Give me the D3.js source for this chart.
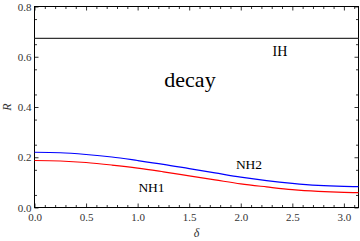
<!DOCTYPE html>
<html lang="en">
<head>
<meta charset="utf-8">
<title>decay R vs delta</title>
<script src="https://d3js.org/d3.v7.min.js"></script>
<style>
  body{margin:0;background:#fff;}
  svg{display:block;}
  text{font-family:"Liberation Serif","DejaVu Serif",serif;}
</style>
</head>
<body>
<div id="chart"></div>
<script>
// values
var delta = [0, 0.25, 0.5, 0.75, 1.0, 1.25, 1.5, 1.75, 2.0, 2.25, 2.5, 2.75, 3.0, Math.PI]
var nh2 = [0.220, 0.218, 0.211, 0.201, 0.187, 0.172, 0.155, 0.138, 0.121, 0.107, 0.096, 0.088, 0.084, 0.083]
var nh1 = [0.187, 0.185, 0.179, 0.169, 0.157, 0.142, 0.126, 0.110, 0.094, 0.082, 0.071, 0.064, 0.060, 0.059]
var ih = 0.673
var xTicks = [0, 0.5, 1.0, 1.5, 2.0, 2.5, 3.0]
var yTicks = [0, 0.2, 0.4, 0.6, 0.8]

var w = 360, h = 241
var x = d3.scaleLinear().domain([0, Math.PI]).range([34.5, 358.5])
var y = d3.scaleLinear().domain([0, 0.8]).range([207.5, 6.5])

var svg = d3.select("#chart").append("svg").attr("width", w).attr("height", h)

// minor ticks every 0.1 on x, every 0.05 on y
var xMinor = d3.range(0, 3.15, 0.1).filter(function(v){ return Math.abs(v*2 - Math.round(v*2)) > 1e-6 })
var yMinor = d3.range(0.05, 0.8, 0.1)

function tickStyle(g){
  g.select(".domain").remove()
  g.selectAll("line").attr("stroke", "#000").attr("stroke-width", 0.8)
  g.selectAll("text").attr("fill", "#333").attr("font-size", 11)
}

var fmt = d3.format(".1f")
svg.append("g").attr("transform", "translate(0," + y(0) + ")")
  .call(d3.axisBottom(x).tickValues(xTicks).tickSize(-4).tickPadding(6).tickFormat(fmt)).call(tickStyle)
svg.append("g").attr("transform", "translate(0," + y(0) + ")")
  .call(d3.axisBottom(x).tickValues(xMinor).tickSize(-2.5).tickFormat("")).call(tickStyle)
svg.append("g").attr("transform", "translate(0," + y(0.8) + ")")
  .call(d3.axisTop(x).tickValues(xTicks).tickSize(-4).tickFormat("")).call(tickStyle)
svg.append("g").attr("transform", "translate(0," + y(0.8) + ")")
  .call(d3.axisTop(x).tickValues(xMinor).tickSize(-2.5).tickFormat("")).call(tickStyle)

svg.append("g").attr("transform", "translate(" + x(0) + ",0)")
  .call(d3.axisLeft(y).tickValues(yTicks).tickSize(-4).tickPadding(3).tickFormat(fmt)).call(tickStyle)
svg.append("g").attr("transform", "translate(" + x(0) + ",0)")
  .call(d3.axisLeft(y).tickValues(yMinor).tickSize(-2.5).tickFormat("")).call(tickStyle)
svg.append("g").attr("transform", "translate(" + x(Math.PI) + ",0)")
  .call(d3.axisRight(y).tickValues(yTicks).tickSize(-4).tickFormat("")).call(tickStyle)
svg.append("g").attr("transform", "translate(" + x(Math.PI) + ",0)")
  .call(d3.axisRight(y).tickValues(yMinor).tickSize(-2.5).tickFormat("")).call(tickStyle)

// frame
svg.append("rect")
  .attr("x", x(0)).attr("y", y(0.8))
  .attr("width", x(Math.PI) - x(0)).attr("height", y(0) - y(0.8))
  .attr("fill", "none").attr("stroke", "#000").attr("stroke-width", 1)

// IH line
svg.append("line")
  .attr("x1", x(0)).attr("x2", x(Math.PI))
  .attr("y1", y(ih)).attr("y2", y(ih))
  .attr("stroke", "#333").attr("stroke-width", 1.2)

var line = d3.line()
  .x(function(d){ return x(d[0]) })
  .y(function(d){ return y(d[1]) })
  .curve(d3.curveMonotoneX)

svg.append("path").datum(d3.zip(delta, nh2))
  .attr("d", line).attr("fill", "none").attr("stroke", "#0000ff").attr("stroke-width", 1.2)
svg.append("path").datum(d3.zip(delta, nh1))
  .attr("d", line).attr("fill", "none").attr("stroke", "#ff0000").attr("stroke-width", 1.2)

// labels
svg.append("text").attr("x", 190).attr("y", 86.5).attr("text-anchor", "middle")
  .attr("font-size", 22).text("decay")
svg.append("text").attr("x", 280).attr("y", 56).attr("text-anchor", "middle")
  .attr("font-size", 14).text("IH")
svg.append("text").attr("x", 249).attr("y", 168.7).attr("text-anchor", "middle")
  .attr("font-size", 13.5).text("NH2")
svg.append("text").attr("x", 151.5).attr("y", 191.7).attr("text-anchor", "middle")
  .attr("font-size", 13.5).text("NH1")

// axis labels
svg.append("text").attr("x", (x(0) + x(Math.PI)) / 2).attr("y", 237)
  .attr("text-anchor", "middle").attr("font-size", 12).attr("font-style", "italic").attr("fill", "#333")
  .text("δ")
svg.append("text").attr("transform", "translate(11," + y(0.4) + ") rotate(-90)")
  .attr("text-anchor", "middle").attr("font-size", 12).attr("font-style", "italic").attr("fill", "#333")
  .text("R")
</script>
</body>
</html>
